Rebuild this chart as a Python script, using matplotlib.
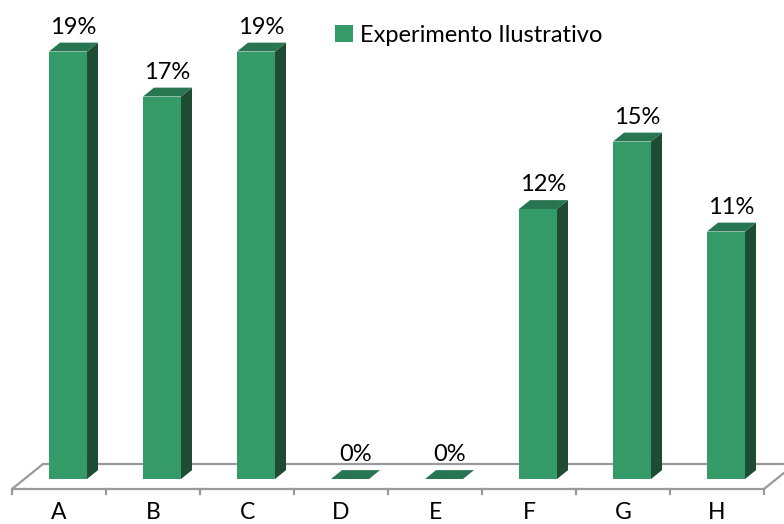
import matplotlib.pyplot as plt
from matplotlib.patches import Polygon, Patch

categories = ['A', 'B', 'C', 'D', 'E', 'F', 'G', 'H']
values = [19, 17, 19, 0, 0, 12, 15, 11]
value_labels = ['19%', '17%', '19%', '0%', '0%', '12%', '15%', '11%']
series_name = 'Experimento Ilustrativo'

plt.rcParams['font.family'] = ['Lato', 'DejaVu Sans']

# pixel scale of the plot: one category slot and one percent point
PX_CAT = 94.0
PX_PCT = 22.5
# oblique projection of one unit of depth (floor is 1 unit deep)
DX = 31 / PX_CAT
DY = 25 / PX_PCT

FRONT = '#349a68'
TOP = '#287552'
SIDE = '#1d4c33'
FLOOR = '#9a9a9a'


def proj(x, v, z):
    return (x + z * DX, v + z * DY)


fig = plt.figure(figsize=(7.84, 5.24), dpi=100)
ax = fig.add_axes([0, 0, 1, 1])
ax.set_xlim(-59 / PX_CAT, (784 - 59) / PX_CAT)
ax.set_ylim(-35 / PX_PCT, 489 / PX_PCT)
ax.axis('off')

n = len(categories)

# floor outline
corners = [proj(-0.5, 0, 0), proj(n - 0.5, 0, 0), proj(n - 0.5, 0, 1), proj(-0.5, 0, 1)]
ax.add_patch(Polygon(corners, closed=True, facecolor='white', edgecolor=FLOOR, lw=1.6, zorder=1))
for i in range(n + 1):
    ax.plot([i - 0.5, i - 0.5], [0, -5 / PX_PCT], color=FLOOR, lw=1.6, zorder=1)

# bars
w = 38 / PX_CAT
shift = -0.036
z0, z1 = 0.4, 0.4 + 11 / 31
for i, v in enumerate(values):
    x0 = i + shift - w / 2
    x1 = x0 + w
    front = [proj(x0, 0, z0), proj(x1, 0, z0), proj(x1, v, z0), proj(x0, v, z0)]
    side = [proj(x1, 0, z0), proj(x1, 0, z1), proj(x1, v, z1), proj(x1, v, z0)]
    top = [proj(x0, v, z0), proj(x1, v, z0), proj(x1, v, z1), proj(x0, v, z1)]
    if v > 0:
        ax.add_patch(Polygon(front, closed=True, facecolor=FRONT, edgecolor='none', zorder=3))
        ax.add_patch(Polygon(side, closed=True, facecolor=SIDE, edgecolor='none', zorder=3))
    ax.add_patch(Polygon(top, closed=True, facecolor=TOP, edgecolor='none', zorder=3))

    lx = proj(i + shift, v, (z0 + z1) / 2)[0]
    ly = proj(i + shift, v, z1)[1] + 9 / PX_PCT
    ax.text(lx, ly, value_labels[i], ha='center', va='baseline', fontsize=17, color='black', zorder=4)

    ax.text(i, -34 / PX_PCT, categories[i], ha='center', va='bottom', fontsize=16.5, color='black')

handle = Patch(facecolor=FRONT, edgecolor='none', label=series_name)
ax.legend(handles=[handle], loc='upper left', bbox_to_anchor=(335 / 784, 1 - 25 / 524),
          frameon=False, fontsize=17, handlelength=0.75, handleheight=0.75,
          handletextpad=0.3, borderpad=0, borderaxespad=0)

fig.savefig('out.png', dpi=100)
